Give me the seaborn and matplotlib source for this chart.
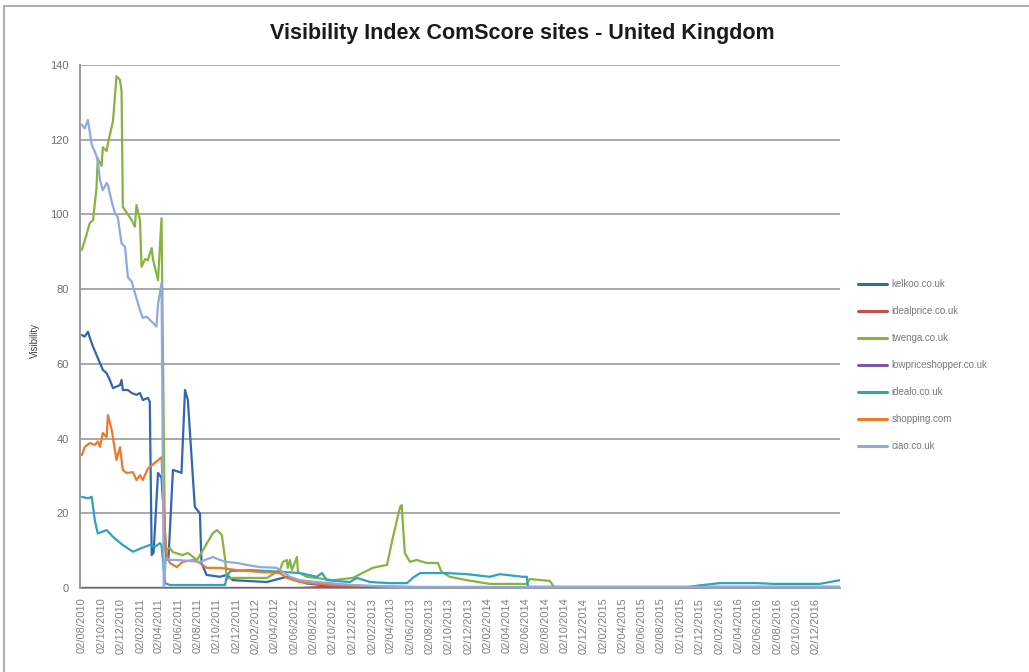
import numpy as np
import pandas as pd
import matplotlib
matplotlib.use("Agg")
import matplotlib.pyplot as plt
import matplotlib.dates as mdates
from matplotlib.patches import Rectangle
from matplotlib.lines import Line2D
import seaborn as sns

# --- data ---
kelkoo_dates = ['2010-08-02', '2010-08-11', '2010-08-21', '2010-08-27', '2010-09-06', '2010-09-17',
                '2010-09-28', '2010-10-07', '2010-10-19', '2010-10-29', '2010-11-08', '2010-11-19',
                '2010-11-30', '2010-12-05', '2010-12-09', '2010-12-25', '2011-01-06', '2011-01-21',
                '2011-02-01', '2011-02-10', '2011-02-26', '2011-03-04', '2011-03-10', '2011-03-16',
                '2011-03-30', '2011-04-10', '2011-04-26', '2011-05-02', '2011-05-16', '2011-06-07',
                '2011-06-12', '2011-06-23', '2011-07-02', '2011-07-24', '2011-08-09', '2011-08-14',
                '2011-08-30', '2011-10-11', '2011-11-02', '2011-11-21', '2012-03-07', '2012-05-09',
                '2012-06-10', '2012-07-11', '2012-10-01', '2013-02-04', '2017-02-16']
kelkoo_values = [67.7, 67.3, 68.6, 67.0, 64.6, 62.4,
                 60.2, 58.4, 57.5, 55.7, 53.5, 53.9,
                 54.3, 55.7, 53.0, 53.0, 52.2, 51.7,
                 52.2, 50.3, 50.9, 49.9, 8.8, 9.5,
                 30.8, 29.5, 7.5, 8.0, 31.6, 31.0,
                 30.8, 53.0, 50.3, 21.7, 20.0, 6.7,
                 3.5, 3.0, 3.5, 2.1, 1.6, 3.0,
                 2.1, 1.2, 0.5, 0.2, 0.2]

idealprice_dates = ['2010-08-02', '2012-06-19', '2012-10-01', '2013-06-01', '2013-09-01',
                    '2015-10-01', '2015-12-01', '2017-02-16']
idealprice_values = [0.0, 0.0, 0.4, 0.3, 0.0, 0.0, 0.3, 0.3]

twenga_dates = ['2010-08-02', '2010-08-11', '2010-08-27', '2010-09-06', '2010-09-17', '2010-09-21',
                '2010-10-03', '2010-10-07', '2010-10-19', '2010-10-23', '2010-11-08', '2010-11-19',
                '2010-11-30', '2010-12-05', '2010-12-09', '2010-12-25', '2011-01-06', '2011-01-16',
                '2011-01-21', '2011-02-01', '2011-02-06', '2011-02-17', '2011-02-26', '2011-03-10',
                '2011-03-14', '2011-03-30', '2011-04-10', '2011-04-21', '2011-05-06', '2011-05-16',
                '2011-06-16', '2011-07-02', '2011-07-31', '2011-09-19', '2011-10-02', '2011-10-17',
                '2011-10-27', '2011-11-02', '2011-11-12', '2012-03-07', '2012-04-17', '2012-04-27',
                '2012-05-09', '2012-05-12', '2012-05-19', '2012-05-25', '2012-06-10', '2012-06-13',
                '2012-07-11', '2012-10-01', '2012-12-03', '2013-02-04', '2013-03-21', '2013-04-08',
                '2013-05-01', '2013-05-06', '2013-05-16', '2013-06-01', '2013-06-22', '2013-07-24',
                '2013-08-28', '2013-09-09', '2013-10-05', '2013-11-27', '2014-02-08', '2014-06-04',
                '2014-06-14', '2014-08-16', '2014-09-01']
twenga_values = [90.5, 93.0, 97.7, 98.5, 107.0, 115.0,
                 113.0, 118.0, 117.0, 119.0, 125.0, 137.0,
                 136.0, 133.0, 102.0, 100.0, 98.5, 96.7,
                 102.5, 98.5, 86.0, 88.0, 87.8, 91.0,
                 88.0, 82.4, 99.0, 10.0, 10.7, 9.6,
                 8.8, 9.4, 7.5, 14.7, 15.5, 14.2,
                 8.0, 2.5, 2.7, 2.7, 4.8, 7.0,
                 7.5, 5.4, 7.5, 4.8, 8.3, 4.3,
                 3.0, 2.1, 2.7, 5.4, 6.2, 13.4,
                 21.7, 22.2, 9.4, 7.0, 7.5, 6.7,
                 6.7, 4.3, 3.0, 2.1, 1.1, 1.1,
                 2.4, 1.9, 0.0]

lowprice_dates = ['2010-08-02', '2017-02-16']
lowprice_values = [0.0, 0.0]

idealo_dates = ['2010-08-02', '2010-08-21', '2010-09-02', '2010-09-12', '2010-09-21', '2010-10-19',
                '2010-11-08', '2010-12-09', '2011-01-10', '2011-02-06', '2011-03-04', '2011-03-20',
                '2011-04-05', '2011-04-10', '2011-04-21', '2011-05-06', '2011-10-27', '2011-11-02',
                '2011-11-12', '2012-01-14', '2012-04-27', '2012-06-19', '2012-08-12', '2012-08-28',
                '2012-09-12', '2012-11-24', '2012-12-16', '2013-01-26', '2013-03-30', '2013-05-23',
                '2013-06-10', '2013-07-03', '2013-09-26', '2013-11-28', '2014-02-08', '2014-03-12',
                '2014-05-23', '2014-06-05', '2014-06-08', '2015-10-25', '2015-12-12', '2016-02-03',
                '2016-05-30', '2016-07-19', '2016-12-15', '2017-01-15', '2017-02-16']
idealo_values = [24.4, 24.0, 24.4, 18.0, 14.6, 15.5,
                 13.7, 11.5, 9.7, 10.7, 11.5, 11.0,
                 12.0, 11.5, 1.3, 0.8, 0.8, 3.0,
                 4.5, 4.8, 4.3, 4.0, 3.0, 4.0,
                 2.1, 1.6, 2.7, 1.6, 1.3, 1.3,
                 2.7, 4.0, 4.0, 3.7, 3.0, 3.7,
                 3.0, 3.0, 0.3, 0.3, 0.8, 1.3,
                 1.3, 1.1, 1.1, 1.6, 2.1]

shopping_dates = ['2010-08-02', '2010-08-11', '2010-08-27', '2010-09-12', '2010-09-21', '2010-09-28',
                  '2010-10-07', '2010-10-19', '2010-10-23', '2010-11-04', '2010-11-19', '2010-11-30',
                  '2010-12-09', '2010-12-21', '2011-01-10', '2011-01-21', '2011-02-01', '2011-02-10',
                  '2011-02-26', '2011-03-20', '2011-04-10', '2011-04-24', '2011-05-06', '2011-05-28',
                  '2011-06-16', '2011-07-18', '2011-08-09', '2011-08-30', '2011-10-11', '2011-12-03',
                  '2012-02-14', '2012-04-17', '2012-05-09', '2012-06-19', '2012-07-21', '2012-10-01',
                  '2013-02-04', '2013-06-01', '2017-02-16']
shopping_values = [35.6, 37.8, 38.8, 38.3, 39.2, 37.8,
                   41.5, 40.4, 46.3, 42.3, 34.3, 37.7,
                   31.6, 30.8, 31.0, 28.9, 30.2, 28.9,
                   32.0, 33.5, 35.0, 9.6, 6.7, 5.6,
                   7.0, 7.5, 6.7, 5.4, 5.4, 4.8,
                   4.3, 4.0, 2.7, 1.6, 1.3, 0.8,
                   0.5, 0.2, 0.2]

ciao_dates = ['2010-08-02', '2010-08-11', '2010-08-21', '2010-08-27', '2010-09-02', '2010-09-12',
              '2010-09-21', '2010-09-28', '2010-10-07', '2010-10-19', '2010-10-23', '2010-11-04',
              '2010-11-14', '2010-11-23', '2010-12-05', '2010-12-16', '2010-12-25', '2011-01-06',
              '2011-01-16', '2011-02-01', '2011-02-10', '2011-02-22', '2011-03-10', '2011-03-25',
              '2011-03-30', '2011-04-10', '2011-04-17', '2011-04-24', '2011-05-06', '2011-05-28',
              '2011-08-09', '2011-09-19', '2011-10-11', '2011-11-01', '2011-12-03', '2012-01-03',
              '2012-02-14', '2012-04-07', '2012-05-19', '2012-06-19', '2012-08-12', '2012-12-03',
              '2013-04-08', '2017-02-16']
ciao_values = [124.0, 123.0, 125.3, 122.0, 118.6, 116.8,
               114.6, 109.2, 106.5, 108.4, 107.9, 103.4,
               100.4, 99.3, 92.3, 91.3, 83.2, 82.0,
               79.0, 74.4, 72.3, 72.6, 71.3, 70.0,
               76.0, 81.6, 0.5, 8.0, 7.5, 7.5,
               7.0, 8.3, 7.5, 7.0, 6.7, 6.2,
               5.6, 5.4, 3.0, 2.1, 1.6, 0.8,
               0.3, 0.3]

site_names = ['kelkoo.co.uk', 'idealprice.co.uk', 'twenga.co.uk', 'lowpriceshopper.co.uk',
              'idealo.co.uk', 'shopping.com', 'ciao.co.uk']
site_dates = [kelkoo_dates, idealprice_dates, twenga_dates, lowprice_dates,
              idealo_dates, shopping_dates, ciao_dates]
site_values = [kelkoo_values, idealprice_values, twenga_values, lowprice_values,
               idealo_values, shopping_values, ciao_values]
site_colors = ['#3366B0', '#C0504D', '#86B440', '#7A5AA6', '#2FA3BE', '#EB7A2B', '#8FAADC']

# tick labels: the 2nd of every other month
tick_dates = pd.date_range('2010-08-01', '2016-12-01', freq='2MS') + pd.Timedelta(days=1)

frames = []
for name, d, v in zip(site_names, site_dates, site_values):
    frames.append(pd.DataFrame({'date': pd.to_datetime(d), 'visibility': v, 'site': name}))
df = pd.concat(frames, ignore_index=True)

sns.set_style("white")
plt.rcParams['font.family'] = ['Liberation Sans', 'DejaVu Sans']

fig = plt.figure(figsize=(10.29, 6.72), dpi=100)
ax = fig.add_axes([80 / 1029, 1 - 588 / 672, 760 / 1029, 523 / 672])

sns.lineplot(data=df, x='date', y='visibility', hue='site', hue_order=site_names,
             palette=dict(zip(site_names, site_colors)), estimator=None, sort=False,
             linewidth=1.6, ax=ax, legend=False, zorder=3)

grey = '#9a9a9a'
ax.set_ylim(0, 140)
ax.set_yticks(np.arange(0, 141, 20))
ax.set_xlim(pd.Timestamp('2010-07-27'), pd.Timestamp('2017-02-16'))
ax.set_xticks(tick_dates)
ax.xaxis.set_major_formatter(mdates.DateFormatter('%d/%m/%Y'))
ax.grid(axis='y', color='#a8a8a8', linewidth=1.4)
ax.grid(axis='x', visible=False)
ax.set_axisbelow(True)
for s in ['top', 'right']:
    ax.spines[s].set_visible(False)
ax.spines['left'].set_color(grey)
ax.spines['left'].set_linewidth(1.4)
ax.spines['bottom'].set_color(grey)
ax.spines['bottom'].set_linewidth(1.4)
ax.tick_params(axis='y', direction='out', length=5, width=1.4, color=grey,
               labelsize=8, labelcolor='#707070', pad=3)
ax.tick_params(axis='x', direction='out', length=4, width=1, color=grey,
               labelsize=8, labelcolor='#808080', rotation=90, pad=3)
ax.set_xlabel('')
ax.set_ylabel('')

fig.text(35 / 1029, 1 - 340 / 672, 'Visibility', rotation=90, ha='center', va='center',
         fontsize=7, color='#444444')
fig.text(522 / 1029, 1 - 33 / 672, 'Visibility Index ComScore sites - United Kingdom',
         ha='center', va='center', fontsize=15.5, fontweight='bold', color='#1a1a1a')

handles = [Line2D([0], [0], color=c, linewidth=2.2) for c in site_colors]
leg = ax.legend(handles, site_names, loc='upper left', bbox_to_anchor=(858 / 1029, 1 - 279 / 672),
                bbox_transform=fig.transFigure, frameon=False, fontsize=7, handlelength=3.0,
                handletextpad=0.45, labelspacing=1.75, borderaxespad=0, borderpad=0)
for t in leg.get_texts():
    t.set_color('#7a7a7a')

fig.patches.append(Rectangle((4 / 1029, -0.02), 1.1, 1 - 6 / 672 + 0.02, transform=fig.transFigure,
                             fill=False, edgecolor='#a0a0a0', linewidth=1.2))

fig.savefig('out.png', dpi=100)
